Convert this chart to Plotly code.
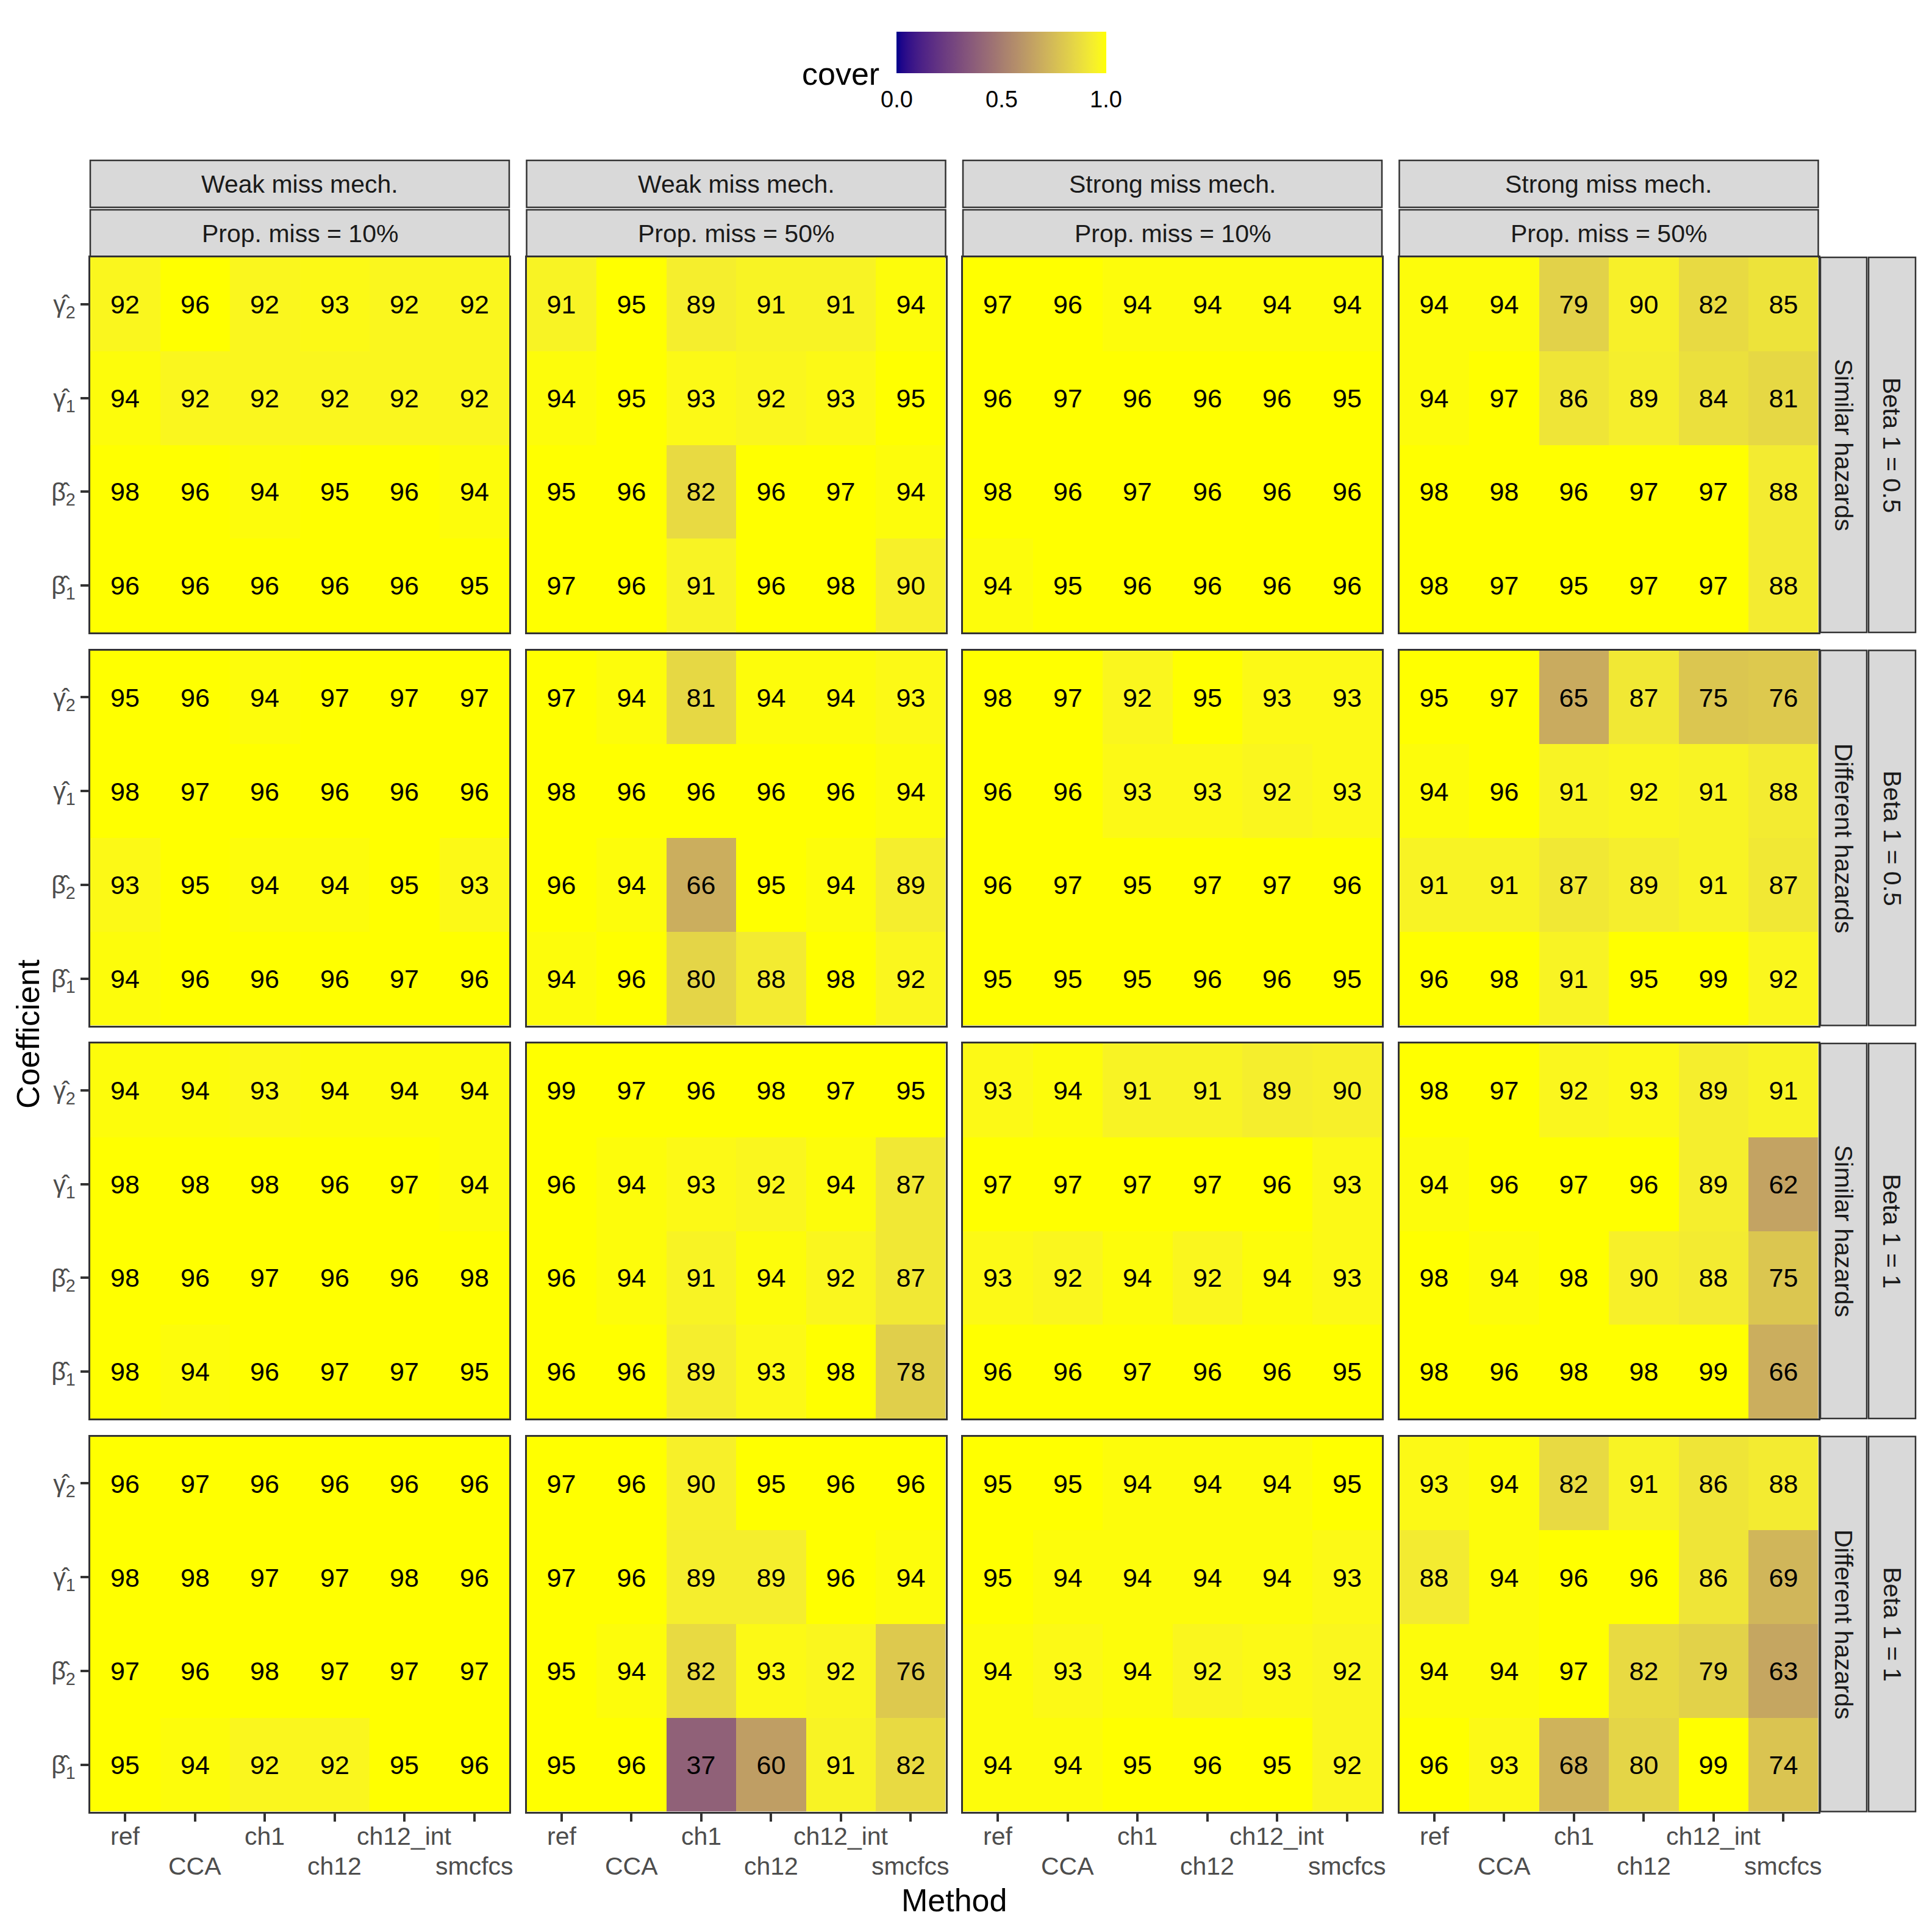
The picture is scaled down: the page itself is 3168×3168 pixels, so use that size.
import numpy as np
import plotly.graph_objects as go

W = H = 3168

# ---------------- data ----------------
methods = ["ref", "CCA", "ch1", "ch12", "ch12_int", "smcfcs"]
method_row = [0, 1, 0, 1, 0, 1]  # dodged tick label rows
coefs_top_to_bottom = ["g2", "g1", "b2", "b1"]
coef_labels = {
    "g2": "\u03b3\u0302<sub>2</sub>",
    "g1": "\u03b3\u0302<sub>1</sub>",
    "b2": "\u03b2\u0302<sub>2</sub>",
    "b1": "\u03b2\u0302<sub>1</sub>",
}
col_mech = ["Weak miss mech.", "Weak miss mech.", "Strong miss mech.", "Strong miss mech."]
col_prop = ["Prop. miss = 10%", "Prop. miss = 50%", "Prop. miss = 10%", "Prop. miss = 50%"]
row_haz = ["Similar hazards", "Different hazards", "Similar hazards", "Different hazards"]
row_beta = ["Beta 1 = 0.5", "Beta 1 = 0.5", "Beta 1 = 1", "Beta 1 = 1"]
legend_ticks = [0.0, 0.5, 1.0]
legend_ticktext = ["0.0", "0.5", "1.0"]

# coverage (%) per panel, rows = gamma2, gamma1, beta2, beta1 ; cols = methods
similar_beta05 = [
    [[92, 96, 92, 93, 92, 92], [94, 92, 92, 92, 92, 92], [98, 96, 94, 95, 96, 94], [96, 96, 96, 96, 96, 95]],
    [[91, 95, 89, 91, 91, 94], [94, 95, 93, 92, 93, 95], [95, 96, 82, 96, 97, 94], [97, 96, 91, 96, 98, 90]],
    [[97, 96, 94, 94, 94, 94], [96, 97, 96, 96, 96, 95], [98, 96, 97, 96, 96, 96], [94, 95, 96, 96, 96, 96]],
    [[94, 94, 79, 90, 82, 85], [94, 97, 86, 89, 84, 81], [98, 98, 96, 97, 97, 88], [98, 97, 95, 97, 97, 88]],
]
different_beta05 = [
    [[95, 96, 94, 97, 97, 97], [98, 97, 96, 96, 96, 96], [93, 95, 94, 94, 95, 93], [94, 96, 96, 96, 97, 96]],
    [[97, 94, 81, 94, 94, 93], [98, 96, 96, 96, 96, 94], [96, 94, 66, 95, 94, 89], [94, 96, 80, 88, 98, 92]],
    [[98, 97, 92, 95, 93, 93], [96, 96, 93, 93, 92, 93], [96, 97, 95, 97, 97, 96], [95, 95, 95, 96, 96, 95]],
    [[95, 97, 65, 87, 75, 76], [94, 96, 91, 92, 91, 88], [91, 91, 87, 89, 91, 87], [96, 98, 91, 95, 99, 92]],
]
similar_beta1 = [
    [[94, 94, 93, 94, 94, 94], [98, 98, 98, 96, 97, 94], [98, 96, 97, 96, 96, 98], [98, 94, 96, 97, 97, 95]],
    [[99, 97, 96, 98, 97, 95], [96, 94, 93, 92, 94, 87], [96, 94, 91, 94, 92, 87], [96, 96, 89, 93, 98, 78]],
    [[93, 94, 91, 91, 89, 90], [97, 97, 97, 97, 96, 93], [93, 92, 94, 92, 94, 93], [96, 96, 97, 96, 96, 95]],
    [[98, 97, 92, 93, 89, 91], [94, 96, 97, 96, 89, 62], [98, 94, 98, 90, 88, 75], [98, 96, 98, 98, 99, 66]],
]
different_beta1 = [
    [[96, 97, 96, 96, 96, 96], [98, 98, 97, 97, 98, 96], [97, 96, 98, 97, 97, 97], [95, 94, 92, 92, 95, 96]],
    [[97, 96, 90, 95, 96, 96], [97, 96, 89, 89, 96, 94], [95, 94, 82, 93, 92, 76], [95, 96, 37, 60, 91, 82]],
    [[95, 95, 94, 94, 94, 95], [95, 94, 94, 94, 94, 93], [94, 93, 94, 92, 93, 92], [94, 94, 95, 96, 95, 92]],
    [[93, 94, 82, 91, 86, 88], [88, 94, 96, 96, 86, 69], [94, 94, 97, 82, 79, 63], [96, 93, 68, 80, 99, 74]],
]
row_panels = [similar_beta05, different_beta05, similar_beta1, different_beta1]

# ---------------- colour scale (Lab interpolation darkblue -> yellow) ----------------
M = np.array([[0.4124564, 0.3575761, 0.1804375],
              [0.2126729, 0.7151522, 0.0721750],
              [0.0193339, 0.1191920, 0.9503041]])
WHITE = np.array([0.95047, 1.0, 1.08883])


def to_lab(rgb):
    c = np.array(rgb) / 255.0
    lin = np.where(c <= 0.04045, c / 12.92, ((c + 0.055) / 1.055) ** 2.4)
    xyz = M @ lin / WHITE
    d = 6 / 29
    f = np.where(xyz > d ** 3, np.cbrt(xyz), xyz / (3 * d * d) + 4 / 29)
    return np.array([116 * f[1] - 16, 500 * (f[0] - f[1]), 200 * (f[1] - f[2])])


def from_lab(lab):
    L, a, b = lab
    fy = (L + 16) / 116
    fx = fy + a / 500
    fz = fy - b / 200
    d = 6 / 29
    f = np.array([fx, fy, fz])
    xyz = np.where(f > d, f ** 3, 3 * d * d * (f - 4 / 29)) * WHITE
    lin = np.linalg.solve(M, xyz)
    lin = np.clip(lin, 0, 1)
    c = np.where(lin <= 0.0031308, 12.92 * lin, 1.055 * lin ** (1 / 2.4) - 0.055)
    c = np.clip(np.round(c * 255), 0, 255).astype(int)
    return "rgb(%d,%d,%d)" % tuple(c)


lab_lo = to_lab((0, 0, 139))
lab_hi = to_lab((255, 255, 0))
colorscale = [[t, from_lab(lab_lo + (lab_hi - lab_lo) * t)] for t in np.linspace(0, 1, 41)]

# ---------------- layout geometry (pixels) ----------------
col_x = [(148, 835), (863.5, 1550.5), (1579, 2266), (2294.5, 2981.5)]
row_y = [(422, 1037), (1066.5, 1681.5), (1711, 2326), (2355.5, 2970.5)]


def px(x):
    return x / W


def py(y):
    return 1 - y / H


FONT = "Liberation Sans, Arial, sans-serif"
fig = go.Figure()
layout = dict(
    width=W, height=H, autosize=False,
    margin=dict(l=0, r=0, t=0, b=0),
    paper_bgcolor="white", plot_bgcolor="white",
    font=dict(family=FONT, color="black"),
    showlegend=False,
)
annotations = []
shapes = []

coef_bottom_to_top = coefs_top_to_bottom[::-1]

for r in range(4):
    for c in range(4):
        k = r * 4 + c + 1
        sfx = "" if k == 1 else str(k)
        panel = row_panels[r][c]
        z_rows = panel[::-1]  # bottom to top
        z = [[v / 100 for v in row] for row in z_rows]
        txt = [[str(v) for v in row] for row in z_rows]
        fig.add_trace(go.Heatmap(
            z=z, x=methods, y=coef_bottom_to_top, text=txt,
            texttemplate="%{text}",
            textfont=dict(family=FONT, size=43, color="black"),
            colorscale=colorscale, zmin=0, zmax=0.95, showscale=False,
            hoverinfo="skip",
            xaxis="x" + sfx, yaxis="y" + sfx,
        ))
        x0, x1 = col_x[c]
        y0, y1 = row_y[r]
        layout["xaxis" + sfx] = dict(
            domain=[px(x0), px(x1)], anchor="y" + sfx, type="category",
            categoryorder="array", categoryarray=methods, range=[-0.5, 5.5],
            showgrid=False, zeroline=False, showline=True, mirror=True,
            linecolor="#333333", linewidth=3,
            ticks="outside" if r == 3 else "", ticklen=13, tickwidth=4, tickcolor="#333333",
            showticklabels=False, fixedrange=True,
        )
        layout["yaxis" + sfx] = dict(
            domain=[py(y1), py(y0)], anchor="x" + sfx, type="category",
            categoryorder="array", categoryarray=coef_bottom_to_top, range=[-0.5, 3.5],
            showgrid=False, zeroline=False, showline=True, mirror=True,
            linecolor="#333333", linewidth=3,
            ticks="outside" if c == 0 else "", ticklen=13, tickwidth=4, tickcolor="#333333",
            showticklabels=(c == 0),
            tickvals=coef_bottom_to_top,
            ticktext=[coef_labels[q] for q in coef_bottom_to_top],
            tickfont=dict(family=FONT, size=41, color="#4D4D4D"),
            fixedrange=True,
        )
        # dodged x tick labels for bottom row
        if r == 3:
            for m, lvl in zip(methods, method_row):
                annotations.append(dict(
                    x=m, xref="x" + sfx, y=py(3011 if lvl == 0 else 3060), yref="paper",
                    text=m, showarrow=False, xanchor="center", yanchor="middle",
                    font=dict(family=FONT, size=41, color="#4D4D4D"),
                ))

# top strips
for c in range(4):
    x0, x1 = col_x[c]
    for (sy0, sy1), label in zip([(263, 340), (344, 422)], [col_mech[c], col_prop[c]]):
        shapes.append(dict(type="rect", xref="paper", yref="paper",
                           x0=px(x0), x1=px(x1), y0=py(sy1), y1=py(sy0),
                           fillcolor="#D9D9D9", line=dict(color="#333333", width=2.5), layer="below"))
        annotations.append(dict(x=px((x0 + x1) / 2), y=py((sy0 + sy1) / 2), xref="paper", yref="paper",
                                text=label, showarrow=False, xanchor="center", yanchor="middle",
                                font=dict(family=FONT, size=41, color="#1A1A1A")))

# right strips
for r in range(4):
    y0, y1 = row_y[r]
    for (sx0, sx1), label in zip([(2985, 3061), (3064, 3141)], [row_haz[r], row_beta[r]]):
        shapes.append(dict(type="rect", xref="paper", yref="paper",
                           x0=px(sx0), x1=px(sx1), y0=py(y1), y1=py(y0),
                           fillcolor="#D9D9D9", line=dict(color="#333333", width=2.5), layer="below"))
        annotations.append(dict(x=px((sx0 + sx1) / 2), y=py((y0 + y1) / 2), xref="paper", yref="paper",
                                text=label, showarrow=False, xanchor="center", yanchor="middle",
                                textangle=90,
                                font=dict(family=FONT, size=41, color="#1A1A1A")))

# axis titles
annotations.append(dict(x=px(1564), y=py(3116), xref="paper", yref="paper", text="Method",
                        showarrow=False, xanchor="center", yanchor="middle",
                        font=dict(family=FONT, size=52, color="black")))
annotations.append(dict(x=px(46), y=py(1696), xref="paper", yref="paper", text="Coefficient",
                        showarrow=False, xanchor="center", yanchor="middle", textangle=-90,
                        font=dict(family=FONT, size=52, color="black")))

# colour legend
bar_x0, bar_x1, bar_y0, bar_y1 = 1470, 1814, 52, 120
fig.add_trace(go.Scatter(
    x=[None], y=[None], mode="markers", hoverinfo="skip",
    marker=dict(color=[0.5], cmin=0, cmax=1, colorscale=colorscale, showscale=True,
                colorbar=dict(orientation="h", x=px((bar_x0 + bar_x1) / 2), xanchor="center",
                              y=py(bar_y0), yanchor="top", len=bar_x1 - bar_x0, lenmode="pixels",
                              thickness=bar_y1 - bar_y0, thicknessmode="pixels",
                              xpad=0, ypad=0, outlinewidth=0, ticks="", showticklabels=False,
                              tickvals=legend_ticks)),
    xaxis="x", yaxis="y",
))
for t, lab in zip(legend_ticks, legend_ticktext):
    xx = bar_x0 + (bar_x1 - bar_x0) * t
    for ya, yb in [(bar_y0, bar_y0 + 13), (bar_y1 - 13, bar_y1)]:
        shapes.append(dict(type="line", xref="paper", yref="paper", x0=px(xx), x1=px(xx),
                           y0=py(ya), y1=py(yb), line=dict(color="white", width=2), layer="above"))
    annotations.append(dict(x=px(xx), y=py(163), xref="paper", yref="paper", text=lab,
                            showarrow=False, xanchor="center", yanchor="middle",
                            font=dict(family=FONT, size=38, color="black")))
annotations.append(dict(x=px(1444), y=py(121), xref="paper", yref="paper", text="cover",
                        showarrow=False, xanchor="right", yanchor="middle",
                        font=dict(family=FONT, size=52, color="black")))

layout["annotations"] = annotations
layout["shapes"] = shapes
fig.update_layout(**layout)
fig.write_html("out.html")
